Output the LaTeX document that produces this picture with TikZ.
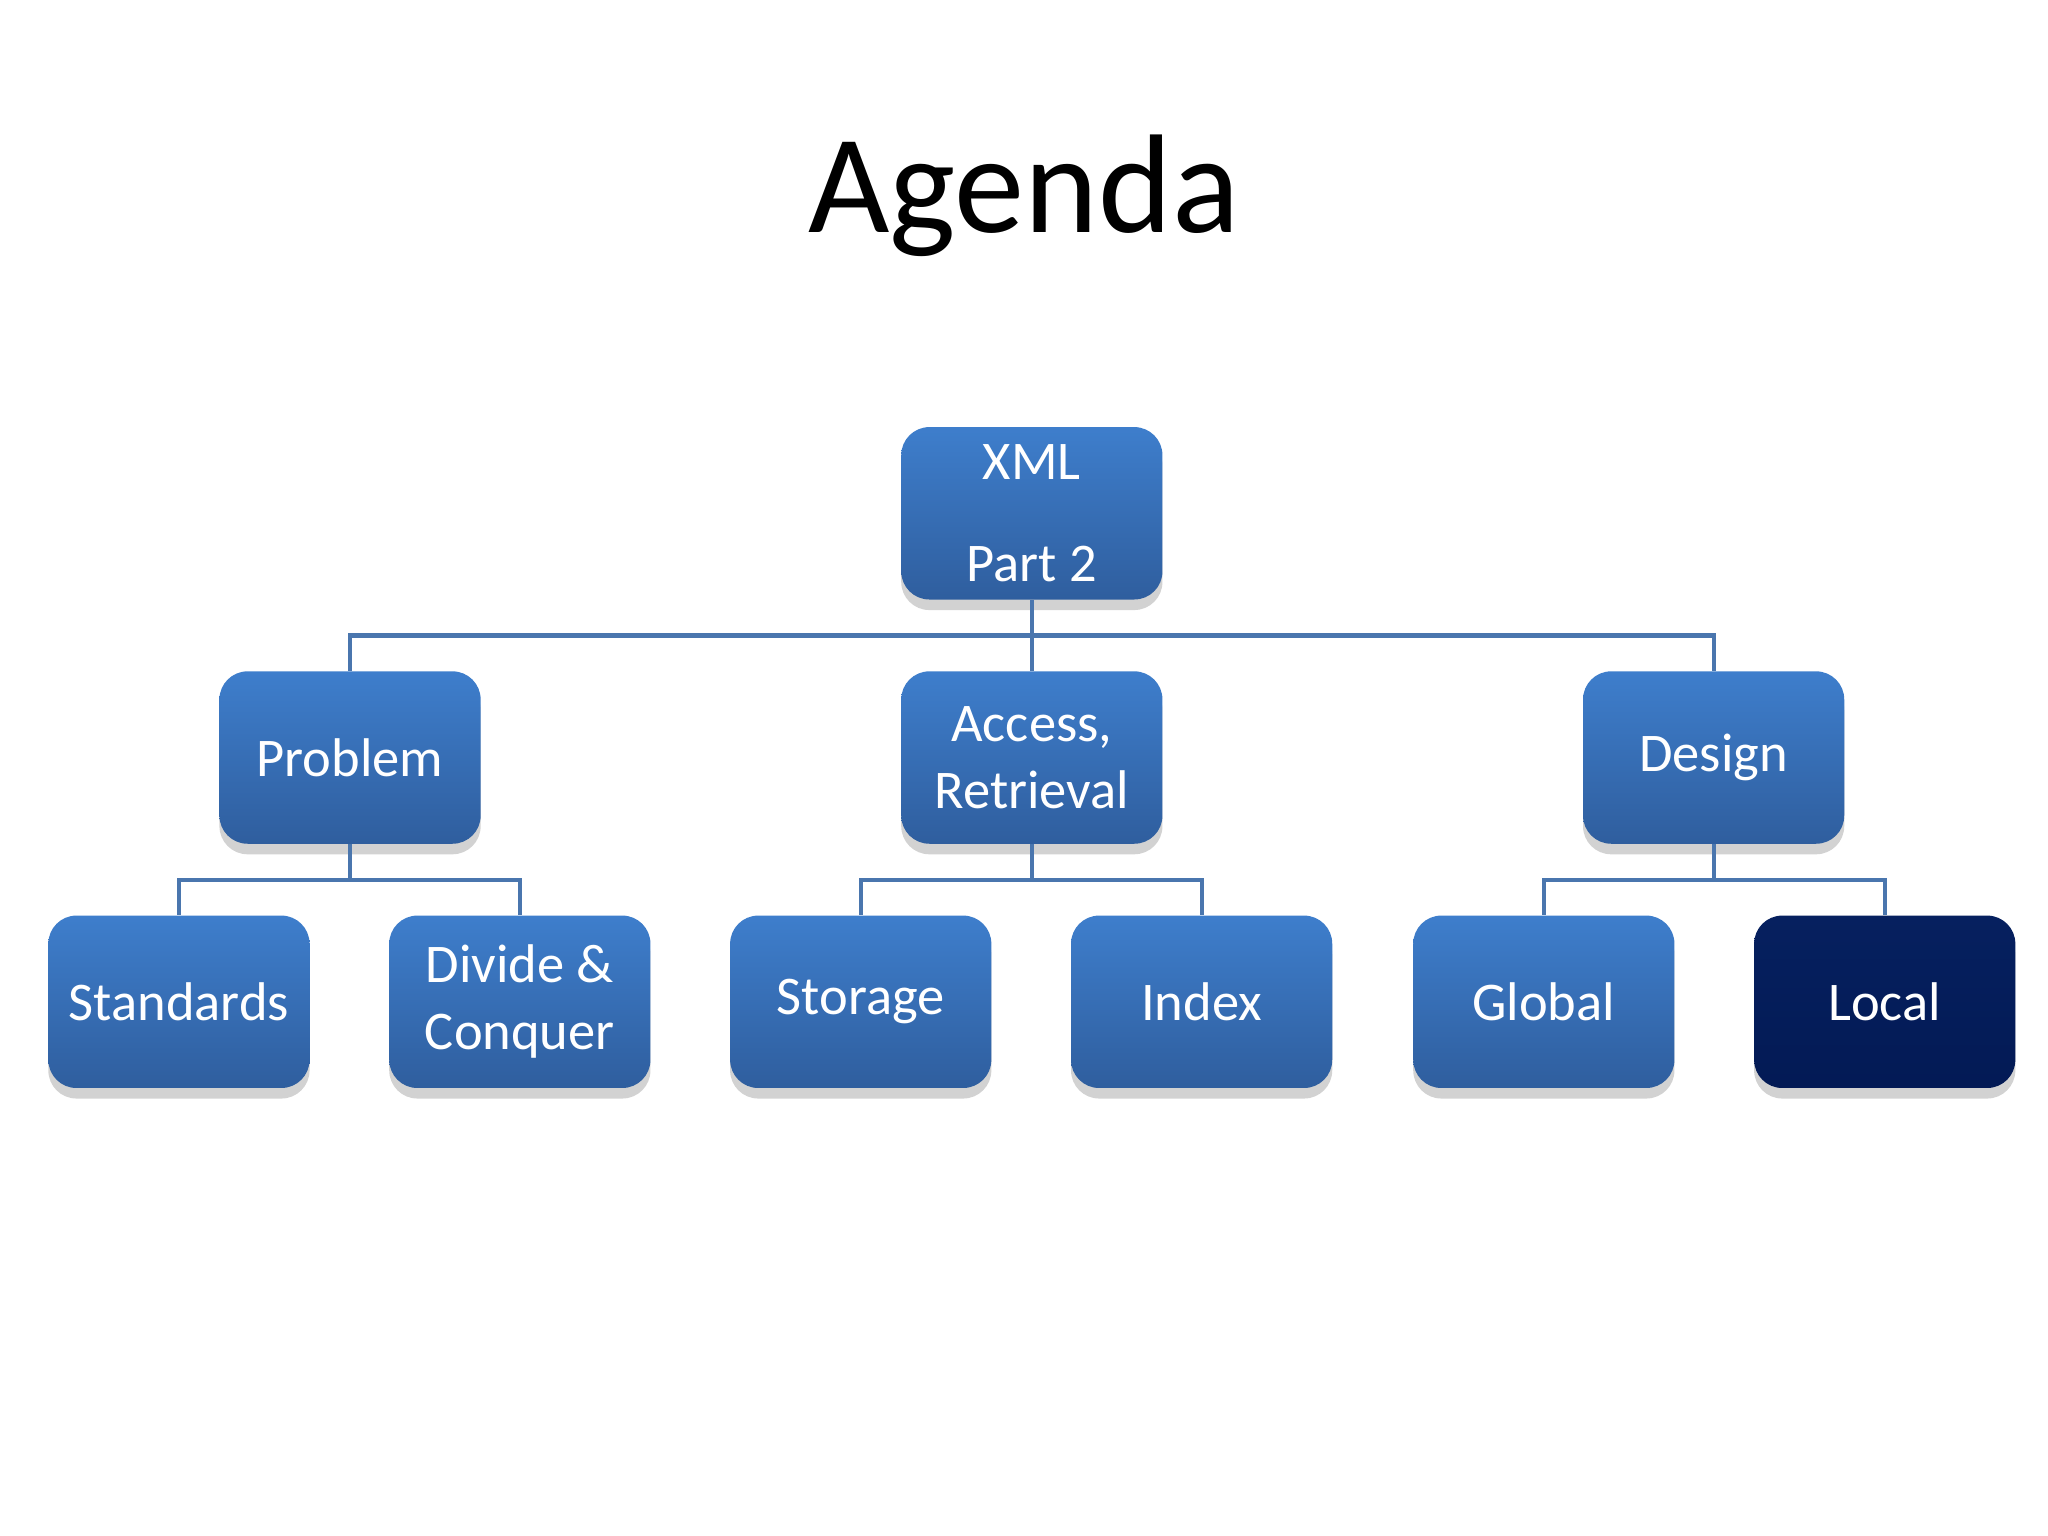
\documentclass[tikz,border=0pt]{standalone}
\usepackage{fontspec}
\setmainfont{Carlito}
\usetikzlibrary{shadows}
\definecolor{boxtop}{HTML}{3E7ECC}
\definecolor{boxbot}{HTML}{2F5E9E}
\definecolor{navytop}{HTML}{06205F}
\definecolor{navybot}{HTML}{031A55}
\definecolor{linkblue}{HTML}{4A76AE}
\begin{document}
\begin{tikzpicture}[x=0.01306cm,y=-0.01306cm,
  topic/.style={rounded corners=8pt,minimum width=200*0.01306cm,minimum height=132*0.01306cm,
    top color=boxtop,bottom color=boxbot,draw=none,text=white,align=center,
    font=\fontsize{15.5}{19}\selectfont,drop shadow={opacity=0.35,shadow xshift=0pt,shadow yshift=-3pt}},
  chosen/.style={topic,top color=navytop,bottom color=navybot},
  link/.style={draw=linkblue,line width=1.2pt}]
  \useasboundingbox (0,0) rectangle (1568,1176);
  \fill[white] (0,0) rectangle (1568,1176);
  \node (title) at (784,150) {\fontsize{40}{48}\selectfont Agenda};
  % top level
  \node[topic] (xml) at (790,393) {XML\\[10pt]Part 2};
  % second level
  \node[topic] (problem) at (268,580) {Problem};
  \node[topic] (access) at (790,580) {Access,\\Retrieval};
  \node[topic] (design) at (1312,580) {Design};
  % third level
  \node[topic] (standards) at (137,767) {Standards};
  \node[topic] (divide) at (398,767) {Divide \&\\Conquer};
  \node[topic] (storage) at (659,767) {Storage};
  \node[topic] (index) at (920,767) {Index};
  \node[topic] (global) at (1182,767) {Global};
  \node[chosen] (local) at (1443,767) {Local};
  % connectors
  \foreach \kid in {problem,access,design}
    \draw[link] (xml.south) |- ++(0,27) -| (\kid.north);
  \foreach \mum/\kid in {problem/standards,problem/divide,access/storage,access/index,design/global,design/local}
    \draw[link] (\mum.south) |- ++(0,27) -| (\kid.north);
\end{tikzpicture}
\end{document}
